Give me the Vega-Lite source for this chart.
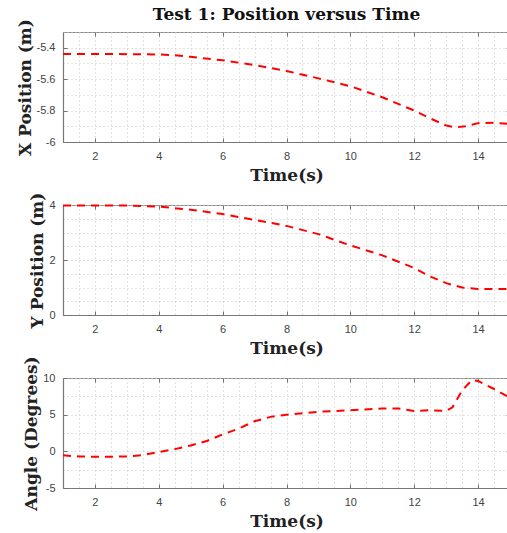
{
  "$schema": "https://vega.github.io/schema/vega-lite/v6.json",
  "padding": {"left": 15, "top": 5, "right": 0, "bottom": 0},
  "bounds": "flush",
  "spacing": 63,
  "background": "white",
  "datasets": {
    "xpos": [
      {"t": 1, "v": -5.44}, {"t": 2, "v": -5.44}, {"t": 3, "v": -5.441}, {"t": 4, "v": -5.443},
      {"t": 4.5, "v": -5.448}, {"t": 5, "v": -5.458}, {"t": 6, "v": -5.48}, {"t": 7, "v": -5.51},
      {"t": 8, "v": -5.548}, {"t": 9, "v": -5.595}, {"t": 10, "v": -5.645}, {"t": 11, "v": -5.715},
      {"t": 12, "v": -5.8}, {"t": 12.5, "v": -5.85}, {"t": 13, "v": -5.895}, {"t": 13.3, "v": -5.907},
      {"t": 13.6, "v": -5.9}, {"t": 14, "v": -5.88}, {"t": 14.5, "v": -5.878}, {"t": 15, "v": -5.886}
    ],
    "ypos": [
      {"t": 1, "v": 3.98}, {"t": 2, "v": 3.98}, {"t": 3, "v": 3.98}, {"t": 4, "v": 3.94},
      {"t": 5, "v": 3.83}, {"t": 6, "v": 3.67}, {"t": 7, "v": 3.46}, {"t": 8, "v": 3.24},
      {"t": 9, "v": 2.94}, {"t": 10, "v": 2.53}, {"t": 11, "v": 2.17}, {"t": 12, "v": 1.71},
      {"t": 12.5, "v": 1.4}, {"t": 13, "v": 1.16}, {"t": 13.5, "v": 1.0}, {"t": 14, "v": 0.95},
      {"t": 15, "v": 0.95}
    ],
    "angle": [
      {"t": 1, "v": -0.55}, {"t": 1.5, "v": -0.7}, {"t": 2, "v": -0.75}, {"t": 3, "v": -0.7},
      {"t": 3.5, "v": -0.5}, {"t": 4, "v": -0.1}, {"t": 4.5, "v": 0.3}, {"t": 5, "v": 0.8},
      {"t": 5.5, "v": 1.4}, {"t": 6, "v": 2.3}, {"t": 6.5, "v": 3.1}, {"t": 7, "v": 4.1},
      {"t": 7.5, "v": 4.7}, {"t": 8, "v": 5.0}, {"t": 9, "v": 5.4}, {"t": 10, "v": 5.6},
      {"t": 11, "v": 5.85}, {"t": 11.5, "v": 5.85}, {"t": 12, "v": 5.5}, {"t": 12.5, "v": 5.6},
      {"t": 13, "v": 5.5}, {"t": 13.2, "v": 6.0}, {"t": 13.5, "v": 8.3}, {"t": 13.8, "v": 9.7},
      {"t": 14, "v": 9.6}, {"t": 14.5, "v": 8.5}, {"t": 15, "v": 7.3}
    ]
  },
  "vconcat": [
    {
      "title": {"text": "Test 1: Position versus Time", "anchor": "middle", "frame": "group", "offset": -5},
      "width": 447, "height": 110,
      "data": {"name": "xpos"},
      "resolve": {"axis": {"x": "independent", "y": "independent"}},
      "layer": [
        {
          "mark": {"type": "line", "color": "#ff0000", "strokeWidth": 2, "strokeDash": [8, 6]},
          "encoding": {
            "x": {"field": "t", "type": "quantitative", "title": "Time(s)",
                  "scale": {"domain": [1, 15], "nice": false, "zero": false},
                  "axis": {"values": [1,1.5,2,2.5,3,3.5,4,4.5,5,5.5,6,6.5,7,7.5,8,8.5,9,9.5,10,10.5,11,11.5,12,12.5,13,13.5,14,14.5,15],
                           "labelExpr": "datum.value % 2 == 0 ? '' + datum.value : ''",
                           "tickSize": {"condition": {"test": "datum.value % 2 == 0", "value": -4}, "value": 0}}},
            "y": {"field": "v", "type": "quantitative", "title": "X Position (m)",
                  "scale": {"domain": [-6, -5.3], "nice": false, "zero": false},
                  "axis": {"values": [-6,-5.9,-5.8,-5.7,-5.6,-5.5,-5.4,-5.3],
                           "labelExpr": "abs(round(datum.value*10)) % 2 == 0 ? '' + datum.value : ''",
                           "tickSize": {"condition": {"test": "abs(round(datum.value*10)) % 2 == 0", "value": -4}, "value": 0}}}
          }
        },
        {
          "mark": {"type": "line", "opacity": 0},
          "encoding": {
            "x": {"field": "t", "type": "quantitative",
                  "axis": {"orient": "top", "title": null, "labels": false, "grid": false, "domain": false,
                           "values": [2,4,6,8,10,12,14], "tickSize": -4}},
            "y": {"field": "v", "type": "quantitative",
                  "axis": {"orient": "right", "title": null, "labels": false, "grid": false, "domain": false,
                           "values": [-6,-5.8,-5.6,-5.4], "tickSize": -4}}
          }
        }
      ]
    },
    {
      "width": 447, "height": 110,
      "data": {"name": "ypos"},
      "resolve": {"axis": {"x": "independent", "y": "independent"}},
      "layer": [
        {
          "mark": {"type": "line", "color": "#ff0000", "strokeWidth": 2, "strokeDash": [8, 6]},
          "encoding": {
            "x": {"field": "t", "type": "quantitative", "title": "Time(s)",
                  "scale": {"domain": [1, 15], "nice": false, "zero": false},
                  "axis": {"values": [1,1.5,2,2.5,3,3.5,4,4.5,5,5.5,6,6.5,7,7.5,8,8.5,9,9.5,10,10.5,11,11.5,12,12.5,13,13.5,14,14.5,15],
                           "labelExpr": "datum.value % 2 == 0 ? '' + datum.value : ''",
                           "tickSize": {"condition": {"test": "datum.value % 2 == 0", "value": -4}, "value": 0}}},
            "y": {"field": "v", "type": "quantitative", "title": "Y Position (m)",
                  "scale": {"domain": [0, 4], "nice": false, "zero": false},
                  "axis": {"values": [0,0.5,1,1.5,2,2.5,3,3.5,4],
                           "labelExpr": "datum.value % 2 == 0 ? '' + datum.value : ''",
                           "tickSize": {"condition": {"test": "datum.value % 2 == 0", "value": -4}, "value": 0}}}
          }
        },
        {
          "mark": {"type": "line", "opacity": 0},
          "encoding": {
            "x": {"field": "t", "type": "quantitative",
                  "axis": {"orient": "top", "title": null, "labels": false, "grid": false, "domain": false,
                           "values": [2,4,6,8,10,12,14], "tickSize": -4}},
            "y": {"field": "v", "type": "quantitative",
                  "axis": {"orient": "right", "title": null, "labels": false, "grid": false, "domain": false,
                           "values": [0,2,4], "tickSize": -4}}
          }
        }
      ]
    },
    {
      "width": 447, "height": 110,
      "data": {"name": "angle"},
      "resolve": {"axis": {"x": "independent", "y": "independent"}},
      "layer": [
        {
          "mark": {"type": "line", "color": "#ff0000", "strokeWidth": 2, "strokeDash": [8, 6]},
          "encoding": {
            "x": {"field": "t", "type": "quantitative", "title": "Time(s)",
                  "scale": {"domain": [1, 15], "nice": false, "zero": false},
                  "axis": {"values": [1,1.5,2,2.5,3,3.5,4,4.5,5,5.5,6,6.5,7,7.5,8,8.5,9,9.5,10,10.5,11,11.5,12,12.5,13,13.5,14,14.5,15],
                           "labelExpr": "datum.value % 2 == 0 ? '' + datum.value : ''",
                           "tickSize": {"condition": {"test": "datum.value % 2 == 0", "value": -4}, "value": 0}}},
            "y": {"field": "v", "type": "quantitative", "title": "Angle (Degrees)",
                  "scale": {"domain": [-5, 10], "nice": false, "zero": false},
                  "axis": {"values": [-5,-2.5,0,2.5,5,7.5,10],
                           "labelExpr": "datum.value % 5 == 0 ? '' + datum.value : ''",
                           "tickSize": {"condition": {"test": "datum.value % 5 == 0", "value": -4}, "value": 0}}}
          }
        },
        {
          "mark": {"type": "line", "opacity": 0},
          "encoding": {
            "x": {"field": "t", "type": "quantitative",
                  "axis": {"orient": "top", "title": null, "labels": false, "grid": false, "domain": false,
                           "values": [2,4,6,8,10,12,14], "tickSize": -4}},
            "y": {"field": "v", "type": "quantitative",
                  "axis": {"orient": "right", "title": null, "labels": false, "grid": false, "domain": false,
                           "values": [-5,0,5,10], "tickSize": -4}}
          }
        }
      ]
    }
  ],
  "config": {
    "view": {"stroke": "#8a8a8a", "strokeWidth": 1},
    "title": {"font": "DejaVu Serif", "fontSize": 17, "fontWeight": "bold", "color": "#111"},
    "axis": {
      "domain": true,
      "domainColor": "#777777",
      "domainWidth": 1.2,
      "grid": true,
      "gridColor": "#c4c4c4",
      "gridDash": [1, 3],
      "gridWidth": 1,
      "tickColor": "#707070",
      "labelFont": "Liberation Sans",
      "labelFontSize": 11,
      "labelColor": "#444",
      "labelOverlap": false,
      "labelBound": false,
      "labelFlush": false,
      "labelPadding": 12,
      "titleFont": "DejaVu Serif",
      "titleFontSize": 17,
      "titleFontWeight": "bold",
      "titleColor": "#222",
      "titlePadding": 2
    }
  }
}
